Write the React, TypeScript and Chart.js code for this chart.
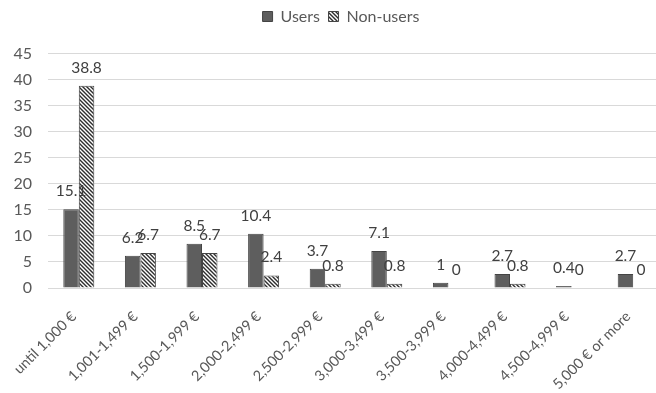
import React, { useEffect, useRef } from "react";
import { Chart, registerables } from "chart.js";

Chart.register(...registerables);

const incomeBands = [
  "until 1,000 €",
  "1,001-1,499 €",
  "1,500-1,999 €",
  "2,000-2,499 €",
  "2,500-2,999 €",
  "3,000-3,499 €",
  "3,500-3,999 €",
  "4,000-4,499 €",
  "4,500-4,999 €",
  "5,000 € or more",
];
const usersShare = [15.1, 6.2, 8.5, 10.4, 3.7, 7.1, 1, 2.7, 0.4, 2.7];
const nonUsersShare = [38.8, 6.7, 6.7, 2.4, 0.8, 0.8, 0, 0.8, 0, 0];
const yTicks = [0, 5, 10, 15, 20, 25, 30, 35, 40, 45];

const FONT = "Lato, 'Open Sans', sans-serif";
const TEXT = "#595959";

// Diagonal hatch fill for the second series
function makeHatch(): CanvasPattern | string {
  const s = 4;
  const c = document.createElement("canvas");
  c.width = s;
  c.height = s;
  const g = c.getContext("2d");
  if (!g) return "#ffffff";
  g.fillStyle = "#ffffff";
  g.fillRect(0, 0, s, s);
  g.strokeStyle = "#2e2e2e";
  g.lineWidth = 1.4;
  g.beginPath();
  g.moveTo(-1, -1);
  g.lineTo(s + 1, s + 1);
  g.moveTo(-1, s - 1);
  g.lineTo(1, s + 1);
  g.moveTo(s - 1, -1);
  g.lineTo(s + 1, 1);
  g.stroke();
  return g.createPattern(c, "repeat") || "#ffffff";
}

// Writes each bar's value above its top
const valueLabels = {
  id: "valueLabels",
  afterDatasetsDraw(chart: any) {
    const { ctx } = chart;
    ctx.save();
    ctx.font = `15.5px ${FONT}`;
    ctx.fillStyle = "#404040";
    ctx.textAlign = "center";
    ctx.textBaseline = "middle";
    chart.data.datasets.forEach((ds: any, i: number) => {
      const meta = chart.getDatasetMeta(i);
      meta.data.forEach((bar: any, j: number) => {
        ctx.fillText(String(ds.data[j]), bar.x, bar.y - 18);
      });
    });
    ctx.restore();
  },
};

// Extra room between the legend and the plot, and a small nudge to the right
const legendPlacement = {
  id: "legendPlacement",
  beforeInit(chart: any) {
    const legend = chart.legend;
    if (!legend) return;
    const fit = legend.fit;
    legend.fit = function () {
      fit.call(legend);
      legend.height += 19;
    };
  },
  afterLayout(chart: any) {
    const legend = chart.legend;
    if (!legend) return;
    legend.left += 9;
    legend.right += 9;
  },
};

export default function App() {
  const ref = useRef<HTMLCanvasElement>(null);

  useEffect(() => {
    if (!ref.current) return;
    const hatch = makeHatch();
    const chart = new Chart(ref.current, {
      type: "bar",
      data: {
        labels: incomeBands,
        datasets: [
          {
            label: "Users",
            data: usersShare,
            backgroundColor: "#5e5e5e",
            borderColor: "#444444",
            borderWidth: 1,
            categoryPercentage: 0.503,
            barPercentage: 1,
          },
          {
            label: "Non-users",
            data: nonUsersShare,
            backgroundColor: hatch as any,
            borderColor: "#444444",
            borderWidth: 1,
            categoryPercentage: 0.503,
            barPercentage: 1,
          },
        ],
      },
      options: {
        responsive: false,
        animation: false,
        layout: { padding: { top: 0, left: 0, right: 16, bottom: 0 } },
        plugins: {
          legend: {
            position: "top",
            labels: {
              boxWidth: 10,
              boxHeight: 10,
              padding: 8.5,
              color: TEXT,
              font: { family: FONT, size: 16 },
            },
          },
          tooltip: { enabled: false },
        },
        scales: {
          x: {
            grid: { display: false },
            border: { color: "#d9d9d9" },
            ticks: {
              color: TEXT,
              font: { family: FONT, size: 14.5 },
              minRotation: 45,
              maxRotation: 45,
              autoSkip: false,
              padding: 12,
              labelOffset: -5,
            },
            afterFit(scale: any) {
              scale.height = 105;
            },
          },
          y: {
            min: 0,
            max: 45,
            afterBuildTicks(scale: any) {
              scale.ticks = yTicks.map((v) => ({ value: v }));
            },
            grid: { color: "#d9d9d9", drawTicks: false },
            border: { display: false },
            ticks: {
              color: TEXT,
              font: { family: FONT, size: 16 },
              padding: 16,
            },
            afterFit(scale: any) {
              scale.width = 48;
            },
          },
        },
      },
      plugins: [valueLabels, legendPlacement],
    });
    return () => chart.destroy();
  }, []);

  return (
    <div
      style={{
        position: "fixed",
        left: 0,
        top: 0,
        width: 656,
        height: 393,
        overflow: "hidden",
        background: "#ffffff",
      }}
    >
      <canvas ref={ref} width={680} height={393} style={{ display: "block" }} />
    </div>
  );
}
